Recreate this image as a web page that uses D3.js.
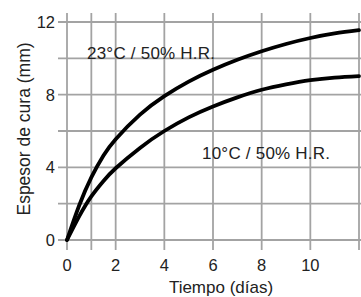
<!DOCTYPE html>
<html><head><meta charset="utf-8">
<script src="https://cdn.jsdelivr.net/npm/d3@7"></script>
<style>body{margin:0;background:#fff}svg{display:block}text{font-family:"Liberation Sans",Arial,sans-serif;fill:#222}</style>
</head><body>
<svg id="c" width="361" height="297"></svg>
<script>
const days = [0, 0.5, 1, 1.5, 2, 3, 4, 5, 6, 7, 8, 9, 10, 11, 12];
const warm = [0, 1.9, 3.45, 4.65, 5.55, 6.9, 7.92, 8.72, 9.37, 9.92, 10.39, 10.79, 11.12, 11.37, 11.55];
const cold = [0, 1.3, 2.4, 3.25, 3.95, 5.07, 6.0, 6.75, 7.35, 7.85, 8.27, 8.57, 8.8, 8.94, 9.02];
const xGrid = [0, 1, 2, 4, 6, 8, 10, 12];
const yGrid = [0, 2, 4, 6, 8, 10, 12];
const xTickLabels = [0, 2, 4, 6, 8, 10];
const yTickLabels = [0, 4, 8, 12];
const warmLabel = "23°C / 50% H.R.";
const coldLabel = "10°C / 50% H.R.";
const xTitle = "Tiempo (días)";
const yTitle = "Espesor de cura (mm)";

const svg = d3.select("#c");
const x = d3.scaleLinear().domain([0, 12]).range([67, 359]);
const y = d3.scaleLinear().domain([0, 12]).range([240, 22]);
const grid = "#a3a3a3";

svg.append("g").selectAll("line").data(xGrid).join("line")
  .attr("x1", d => x(d)).attr("x2", d => x(d))
  .attr("y1", 13).attr("y2", 250)
  .attr("stroke", grid).attr("stroke-width", 1.8);
svg.append("g").selectAll("line").data(yGrid).join("line")
  .attr("x1", 58).attr("x2", 361)
  .attr("y1", d => y(d)).attr("y2", d => y(d))
  .attr("stroke", grid).attr("stroke-width", 1.8);

svg.append("g").selectAll("text").data(xTickLabels).join("text")
  .attr("x", d => x(d)).attr("y", 271)
  .attr("text-anchor", "middle").attr("font-size", 16.5).text(d => d);
svg.append("g").selectAll("text").data(yTickLabels).join("text")
  .attr("x", 55).attr("y", d => y(d) + 6)
  .attr("text-anchor", "end").attr("font-size", 16.5).text(d => d);

const line = d3.line().x(d => x(d[0])).y(d => y(d[1])).curve(d3.curveNatural);
[warm, cold].forEach(s => {
  svg.append("path").datum(days.map((d, i) => [d, s[i]]))
    .attr("d", line).attr("fill", "none").attr("stroke", "#000")
    .attr("stroke-width", 3.8).attr("stroke-linecap", "round");
});

svg.append("text").attr("x", 87).attr("y", 59).attr("font-size", 17).attr("textLength", 128).text(warmLabel);
svg.append("text").attr("x", 202).attr("y", 159).attr("font-size", 17).attr("textLength", 128).text(coldLabel);
svg.append("text").attr("x", 221).attr("y", 293).attr("text-anchor", "middle").attr("font-size", 17).text(xTitle);
svg.append("text").attr("transform", "translate(30,129) rotate(-90)")
  .attr("text-anchor", "middle").attr("font-size", 17.5).text(yTitle);
</script>
</body></html>
